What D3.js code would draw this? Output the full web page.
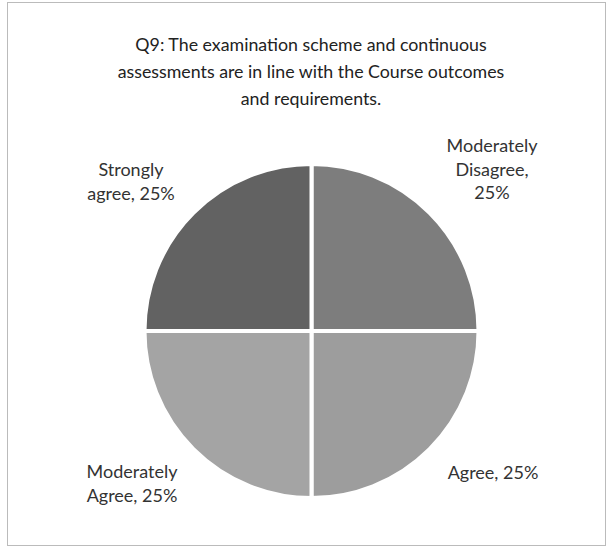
<!DOCTYPE html>
<html><head><meta charset="utf-8">
<script src="https://cdn.jsdelivr.net/npm/d3@7"></script>
<style>body{margin:0;background:#fff}</style>
</head><body>
<svg id="c" width="607" height="550"></svg>
<script>
const categories = ["Moderately Disagree", "Agree", "Moderately Agree", "Strongly agree"];
const values = [25, 25, 25, 25];
const colors = ["#7d7d7d", "#9d9d9d", "#a4a4a4", "#626262"];
const labelLines = [["Moderately", "Disagree,", "25%"], ["Agree, 25%"], ["Moderately", "Agree, 25%"], ["Strongly", "agree, 25%"]];
const titleLines = ["Q9: The examination scheme and continuous", "assessments are in line with the Course outcomes", "and requirements."];

const svg = d3.select("#c");
svg.append("rect").attr("x", 7.5).attr("y", 2.5).attr("width", 598).attr("height", 543)
  .attr("fill", "#fff").attr("stroke", "#bbb").attr("stroke-width", 1);

svg.append("g").selectAll("text").data(titleLines).join("text")
  .attr("x", 311).attr("y", (d, i) => 51 + i * 27)
  .attr("text-anchor", "middle").attr("font-family", "Lato, 'Open Sans', sans-serif")
  .attr("font-size", 17.8).attr("fill", "#222").text(d => d);

const cx = 311.5, cy = 331, r = 167;
const pie = d3.pie().sort(null).value(d => d)(values);
const arc = d3.arc().innerRadius(0).outerRadius(r);
const g = svg.append("g").attr("transform", `translate(${cx},${cy})`);
g.selectAll("path").data(pie).join("path")
  .attr("d", arc).attr("fill", (d, i) => colors[i])
  .attr("stroke", "#fff").attr("stroke-width", 4);

const labelPos = [[492, 152], [493, 479], [132, 478], [131, 176]];
const lg = svg.append("g").attr("font-family", "Lato, 'Open Sans', sans-serif").attr("font-size", 18).attr("text-anchor", "middle");
categories.forEach((c, i) => {
  const t = lg.append("text").attr("x", labelPos[i][0]).attr("y", labelPos[i][1]).attr("fill", "#333");
  labelLines[i].forEach((ln, j) => {
    t.append("tspan").attr("x", labelPos[i][0]).attr("dy", j === 0 ? 0 : 23.5).text(ln);
  });
});
</script>
</body></html>
